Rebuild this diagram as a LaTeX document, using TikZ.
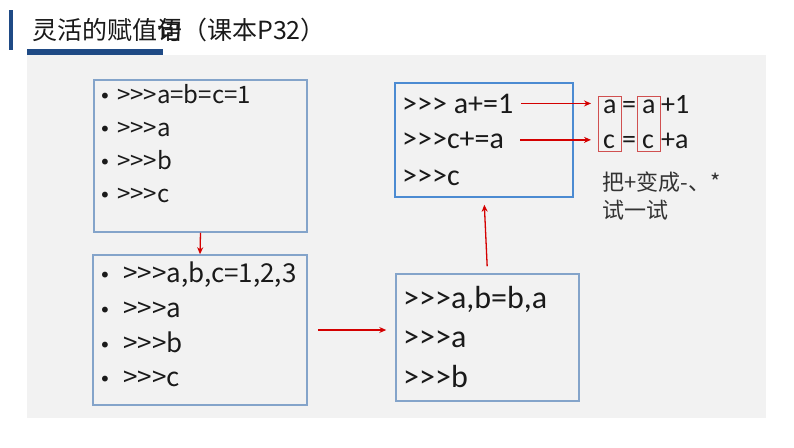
\documentclass[tikz,border=0pt]{standalone}
\usepackage{fontspec}
\newfontfamily\hei{Noto Sans CJK SC}
\newfontfamily\calfont{Carlito}
\newfontfamily\dotfont{DejaVu Sans}
\usetikzlibrary{positioning,arrows.meta,fit}

\definecolor{titleblue}{HTML}{1F4A85}
\definecolor{panelgray}{HTML}{F2F2F2}
\definecolor{boxblue}{HTML}{84A4CA}
\definecolor{brightblue}{HTML}{4C8BD2}
\definecolor{arrowred}{HTML}{D40000}
\definecolor{framered}{HTML}{D05050}
\definecolor{inkgray}{HTML}{1A1A1A}

\tikzset{
 codebox/.style
  = {draw=boxblue, line width=1.5pt, fill=panelgray, inner sep=0pt},
 keybox/.style
  = {codebox, draw=brightblue},
 txt/.style
  = {anchor=base west, inner sep=0pt, text=inkgray},
 dot/.style
  = {txt, font=\dotfont\fontsize{20}{20}\selectfont},
 small/.style
  = {txt, font=\hei\fontsize{24}{24}\selectfont},
 mid/.style
  = {txt, font=\hei\fontsize{26}{26}\selectfont},
 big/.style
  = {txt, font=\calfont\fontsize{32}{32}\selectfont},
 key/.style
  = {txt, font=\calfont\fontsize{30}{30}\selectfont},
 rhs/.style
  = {txt, font=\calfont\fontsize{28}{28}\selectfont},
 note/.style
  = {txt, text=black!80, font=\hei\fontsize{22}{22}\selectfont},
 redarrow/.style
  = {draw=arrowred, line width=1.3pt, -{Stealth[length=7pt,width=6pt]}},
 redframe/.style
  = {draw=framered, line width=1pt, inner xsep=5pt, inner ysep=3pt},
}

\begin{document}
\begin{tikzpicture}[x=1pt,y=-1pt]
  \useasboundingbox (0,0) rectangle (794,447);
  % heading
  \fill[titleblue] (9,10) rectangle (13,50);
  \node[txt, text=black!90, font=\hei\fontsize{25}{25}\selectfont] (title) at (32,39)
    {灵活的赋值语\llap{句}（课本P32）};
  \fill[titleblue] (27,49) rectangle (163,55);
  \fill[panelgray] (27,55) rectangle (766,418);

  % boxes
  \node[codebox, fit={(94,80) (307,232)}] (box1) {};
  \node[codebox, fit={(93,255) (307,405)}] (box2) {};
  \node[codebox, fit={(396,274) (579,401)}] (box3) {};
  \node[keybox, fit={(395,83) (573,197)}] (box4) {};

  % box 1
  \foreach \y/\t [count=\i] in {103/{>>>a=b=c=1}, 136/{>>>a}, 169/{>>>b}, 202/{>>>c}} {
    \node[dot] (d1-\i) at (99,\y) {•};
    \node[small] (l1-\i) at (117,\y) {\t};
  }
  % box 2
  \foreach \y/\t [count=\i] in {282/{>>>a,b,c=1,2,3}, 317/{>>>a}, 352/{>>>b}, 386/{>>>c}} {
    \node[dot] (d2-\i) at (99,\y) {•};
    \node[mid] (l2-\i) at (123,\y) {\t};
  }
  % box 3
  \node[big] (l3-1) at (403,308) {>>>a,b=b,a};
  \node[big] (l3-2) at (403,347) {>>>a};
  \node[big] (l3-3) at (403,387) {>>>b};
  % box 4
  \node[key] (l4-1) at (402,113) {>>> a+=1};
  \node[key] (l4-2) at (402,148) {>>>c+=a};
  \node[key] (l4-3) at (402,185) {>>>c};

  % expanded forms
  \node[rhs] (ra1) at (603,113) {a};
  \node[rhs] (req1) at (622,113) {=};
  \node[rhs] (ra2) at (642,113) {a};
  \node[rhs] (rp1) at (661,113) {+1};
  \node[rhs] (rc1) at (603,148) {c};
  \node[rhs] (req2) at (622,148) {=};
  \node[rhs] (rc2) at (642,148) {c};
  \node[rhs] (rp2) at (661,148) {+a};
  \node[redframe, fit=(ra1)(rc1)] (frame1) {};
  \node[redframe, fit=(ra2)(rc2)] (frame2) {};

  \node[note] (hint1) at (602,190) {把+变成-、*};
  \node[note] (hint2) at (602,218) {试一试};

  % connectors
  \draw[redarrow] (box1.south) -- (box2.north);
  \draw[redarrow, shorten <=10pt, shorten >=9pt] (box2.east) -- (box2.east -| box3.west);
  \draw[redarrow, shorten <=7pt, shorten >=7pt] (box3.north) -- (box4.south);
  \draw[redarrow, shorten <=8pt, shorten >=12pt] (l4-1.east) -- (l4-1.east -| ra1.west);
  \draw[redarrow, shorten <=16pt, shorten >=12pt] (l4-2.east) -- (l4-2.east -| rc1.west);
\end{tikzpicture}
\end{document}
